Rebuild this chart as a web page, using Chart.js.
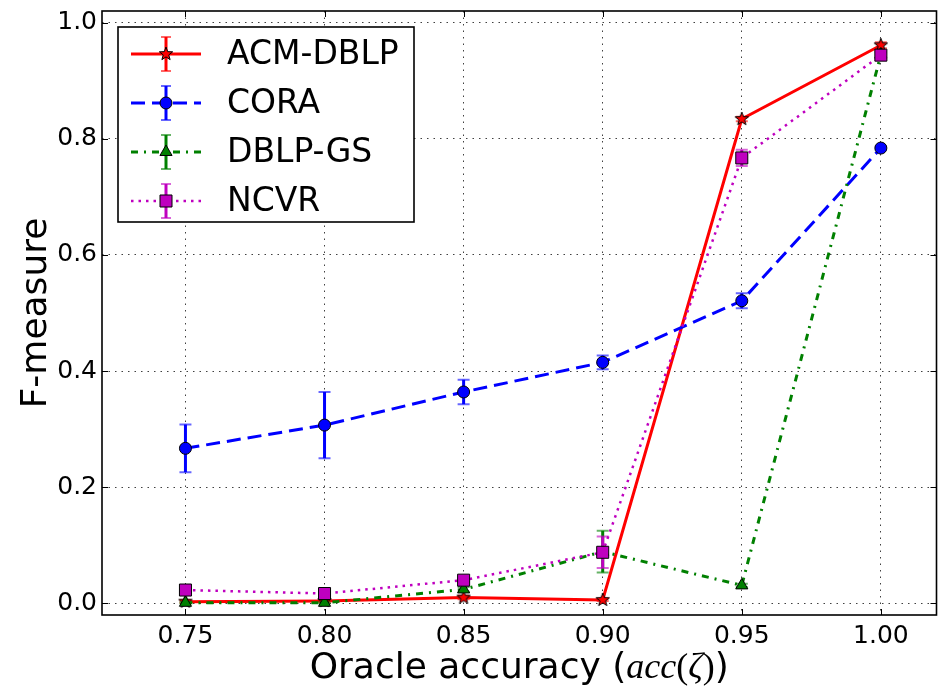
<!DOCTYPE html>
<html><head><meta charset="utf-8">
<script src="https://cdn.jsdelivr.net/npm/chart.js@4/dist/chart.umd.min.js"></script>
<style>html,body{margin:0;padding:0;background:#fff;} canvas{display:block;}</style>
</head><body>
<canvas id="c" width="946" height="689"></canvas>
<script>
// ---- data ----
const accuracy = [0.75, 0.80, 0.85, 0.90, 0.95, 1.00];
const xTickValues = [0.75, 0.80, 0.85, 0.90, 0.95, 1.00];
const yTickValues = [0.0, 0.2, 0.4, 0.6, 0.8, 1.0];
const seriesNames = ['ACM-DBLP', 'CORA', 'DBLP-GS', 'NCVR'];
const acmDblp    = [0.003, 0.004, 0.010, 0.006, 0.834, 0.961];
const acmDblpErr = [0.002, 0.002, 0.003, 0.002, 0.004, 0.005];
const cora       = [0.267, 0.307, 0.364, 0.415, 0.521, 0.784];
const coraErr    = [0.041, 0.057, 0.021, 0.012, 0.013, 0.003];
const dblpGs     = [0.001, 0.001, 0.024, 0.089, 0.031, 0.945];
const dblpGsErr  = [0.001, 0.001, 0.004, 0.036, 0.003, 0.005];
const ncvr       = [0.023, 0.017, 0.040, 0.088, 0.767, 0.944];
const ncvrErr    = [0.002, 0.002, 0.003, 0.027, 0.014, 0.005];
const xAxisRange = [0.72, 1.02];
const yAxisRange = [-0.02, 1.02];

// ---- styles ----
const colors = ['#ff0000', '#0000ff', '#008000', '#bf00bf'];
const FONT = '"DejaVu Sans", "Liberation Sans", sans-serif';

function makeStar(fill, rOut, rIn) {
  const s = Math.ceil(2 * rOut + 4);
  const cv = document.createElement('canvas');
  cv.width = s; cv.height = s;
  const c = cv.getContext('2d');
  c.translate(s / 2, s / 2);
  c.beginPath();
  for (let k = 0; k < 10; k++) {
    const r = k % 2 === 0 ? rOut : rIn;
    const a = -Math.PI / 2 + k * Math.PI / 5;
    const px = r * Math.cos(a), py = r * Math.sin(a);
    if (k === 0) c.moveTo(px, py); else c.lineTo(px, py);
  }
  c.closePath();
  c.fillStyle = fill; c.fill();
  c.lineWidth = 1; c.strokeStyle = '#000'; c.stroke();
  return cv;
}
const starImg = makeStar('#ff0000', 7, 2.9);

const values = [acmDblp, cora, dblpGs, ncvr];
const errors = [acmDblpErr, coraErr, dblpGsErr, ncvrErr];
const dashes = [[], [14, 7], [7, 6, 2, 6], [2.5, 5]];
const widths = [3, 3, 3, 2.5];
const pStyles = [starImg, 'circle', 'triangle', 'rect'];
const pRadius = [6, 6, 7, 8.5];

const datasets = seriesNames.map((name, i) => ({
  label: name,
  data: accuracy.map((x, j) => ({ x: x, y: values[i][j] })),
  borderColor: colors[i],
  backgroundColor: colors[i],
  borderWidth: widths[i],
  borderDash: dashes[i],
  pointStyle: pStyles[i],
  pointRadius: pRadius[i],
  pointBackgroundColor: colors[i],
  pointBorderColor: '#000',
  pointBorderWidth: 1,
  tension: 0,
  fill: false,
  order: 4 - i,
  errors: errors[i]
}));

const errorBarPlugin = {
  id: 'errorBars',
  beforeDatasetDraw(chart, args) {
    const ds = chart.data.datasets[args.index];
    const xs = chart.scales.x, ys = chart.scales.y;
    const ctx = chart.ctx;
    ctx.save();
    ds.data.forEach((p, j) => {
      const e = ds.errors[j];
      const px = xs.getPixelForValue(p.x);
      const y1 = ys.getPixelForValue(p.y + e);
      const y2 = ys.getPixelForValue(p.y - e);
      ctx.strokeStyle = ds.borderColor;
      ctx.lineWidth = 3;
      ctx.setLineDash([]);
      ctx.beginPath(); ctx.moveTo(px, y1); ctx.lineTo(px, y2); ctx.stroke();
      ctx.globalAlpha = 0.6;
      ctx.lineWidth = 2;
      ctx.beginPath();
      ctx.moveTo(px - 6, y1); ctx.lineTo(px + 6, y1);
      ctx.moveTo(px - 6, y2); ctx.lineTo(px + 6, y2);
      ctx.stroke();
      ctx.globalAlpha = 1;
    });
    ctx.restore();
  }
};

function drawMarker(ctx, style, x, y, r, color) {
  ctx.save();
  ctx.fillStyle = color; ctx.strokeStyle = '#000'; ctx.lineWidth = 1; ctx.setLineDash([]);
  if (style instanceof HTMLCanvasElement) {
    ctx.drawImage(style, x - style.width / 2, y - style.height / 2);
  } else if (style === 'circle') {
    ctx.beginPath(); ctx.arc(x, y, r, 0, Math.PI * 2); ctx.fill(); ctx.stroke();
  } else if (style === 'triangle') {
    ctx.beginPath();
    ctx.moveTo(x, y - r);
    ctx.lineTo(x + r * Math.sin(Math.PI / 3), y + r * 0.5);
    ctx.lineTo(x - r * Math.sin(Math.PI / 3), y + r * 0.5);
    ctx.closePath(); ctx.fill(); ctx.stroke();
  } else if (style === 'rect') {
    const h = r * Math.SQRT1_2;
    ctx.beginPath(); ctx.rect(x - h, y - h, 2 * h, 2 * h); ctx.fill(); ctx.stroke();
  }
  ctx.restore();
}

const decorPlugin = {
  id: 'decor',
  afterDraw(chart) {
    const ctx = chart.ctx;
    const a = chart.chartArea;
    const xs = chart.scales.x, ys = chart.scales.y;
    ctx.save();
    // tick marks (inward, all four sides)
    ctx.strokeStyle = '#000'; ctx.lineWidth = 1; ctx.setLineDash([]);
    ctx.beginPath();
    xTickValues.forEach(v => {
      const px = Math.round(xs.getPixelForValue(v)) + 0.5;
      ctx.moveTo(px, a.bottom); ctx.lineTo(px, a.bottom - 6);
      ctx.moveTo(px, a.top); ctx.lineTo(px, a.top + 6);
    });
    yTickValues.forEach(v => {
      const py = Math.round(ys.getPixelForValue(v)) + 0.5;
      ctx.moveTo(a.left, py); ctx.lineTo(a.left + 6, py);
      ctx.moveTo(a.right, py); ctx.lineTo(a.right - 6, py);
    });
    ctx.stroke();
    // frame
    ctx.lineWidth = 1.6;
    ctx.strokeRect(a.left, a.top, a.right - a.left, a.bottom - a.top);

    // legend
    const lx = 118, ly = 27, lw = 296, lh = 195;
    ctx.fillStyle = '#fff';
    ctx.fillRect(lx, ly, lw, lh);
    ctx.lineWidth = 1.6; ctx.strokeStyle = '#000';
    ctx.strokeRect(lx, ly, lw, lh);
    const rows = [54, 103, 152, 201];
    seriesNames.forEach((name, i) => {
      const y = rows[i];
      ctx.save();
      ctx.strokeStyle = colors[i];
      ctx.lineWidth = widths[i];
      ctx.setLineDash(dashes[i]);
      ctx.beginPath(); ctx.moveTo(131, y); ctx.lineTo(201, y); ctx.stroke();
      ctx.setLineDash([]);
      ctx.lineWidth = 3;
      ctx.beginPath(); ctx.moveTo(166, y - 17); ctx.lineTo(166, y + 17); ctx.stroke();
      ctx.globalAlpha = 0.6; ctx.lineWidth = 2;
      ctx.beginPath();
      ctx.moveTo(161, y - 17); ctx.lineTo(171, y - 17);
      ctx.moveTo(161, y + 17); ctx.lineTo(171, y + 17);
      ctx.stroke();
      ctx.restore();
      drawMarker(ctx, pStyles[i], 166, y, pRadius[i], colors[i]);
      ctx.fillStyle = '#000';
      ctx.font = '33px ' + FONT;
      ctx.textBaseline = 'middle'; ctx.textAlign = 'left';
      ctx.fillText(name, 227, y + 1);
    });

    // axis titles
    ctx.fillStyle = '#000';
    ctx.textBaseline = 'alphabetic';
    const f1 = '36px ' + FONT;
    const f2 = 'italic 36px "Liberation Serif", "DejaVu Serif", serif';
    const f3 = '36px "Liberation Serif", "DejaVu Serif", serif';
    const parts = [['Oracle accuracy (', f1], ['acc', f2], ['(', f3], ['ζ', f2], [')', f3], [')', f1]];
    let total = 0;
    parts.forEach(p => { ctx.font = p[1]; total += ctx.measureText(p[0]).width; });
    let x0 = (a.left + a.right) / 2 - total / 2;
    ctx.textAlign = 'left';
    parts.forEach(p => { ctx.font = p[1]; ctx.fillText(p[0], x0, 678); x0 += ctx.measureText(p[0]).width; });

    ctx.save();
    ctx.translate(46, (a.top + a.bottom) / 2);
    ctx.rotate(-Math.PI / 2);
    ctx.font = f1; ctx.textAlign = 'center';
    ctx.fillText('F-measure', 0, 0);
    ctx.restore();
    ctx.restore();
  }
};

new Chart(document.getElementById('c'), {
  type: 'line',
  data: { datasets: datasets },
  options: {
    responsive: false,
    animation: false,
    devicePixelRatio: 1,
    events: [],
    layout: { padding: { top: 11, right: 7, left: 0, bottom: 0 } },
    plugins: { legend: { display: false }, tooltip: { enabled: false }, title: { display: false } },
    scales: {
      x: {
        type: 'linear',
        min: xAxisRange[0], max: xAxisRange[1],
        afterBuildTicks: s => { s.ticks = xTickValues.map(v => ({ value: v })); },
        afterFit: s => { s.height = 74; s.paddingLeft = 0; s.paddingRight = 0; },
        ticks: { callback: v => Number(v).toFixed(2), font: { family: FONT, size: 25 }, color: '#000', padding: 6, maxRotation: 0, autoSkip: false },
        grid: { color: 'rgba(0,0,0,0.75)', lineWidth: 1, drawTicks: false },
        border: { display: false, dash: [1.5, 5] },
        title: { display: false }
      },
      y: {
        type: 'linear',
        min: yAxisRange[0], max: yAxisRange[1],
        afterBuildTicks: s => { s.ticks = yTickValues.map(v => ({ value: v })); },
        afterFit: s => { s.width = 102; s.paddingTop = 0; s.paddingBottom = 0; },
        ticks: { callback: v => Number(v).toFixed(1), font: { family: FONT, size: 25 }, color: '#000', padding: 5, autoSkip: false },
        grid: { color: 'rgba(0,0,0,0.75)', lineWidth: 1, drawTicks: false },
        border: { display: false, dash: [1.5, 5] },
        title: { display: false }
      }
    }
  },
  plugins: [errorBarPlugin, decorPlugin]
});
</script>
</body></html>
